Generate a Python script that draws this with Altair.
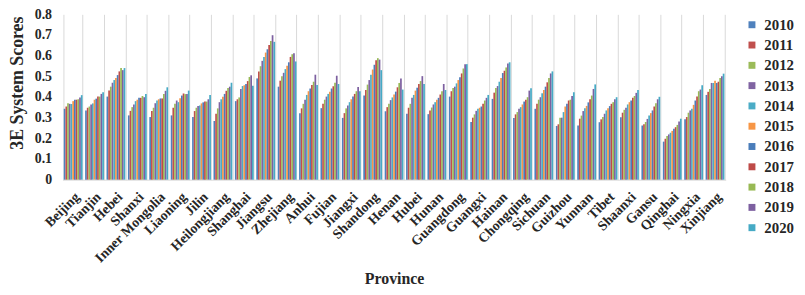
import altair as alt
import pandas as pd

provinces = ["Beijing", "Tianjin", "Hebei", "Shanxi", "Inner Mongolia", "Liaoning", "Jilin",
             "Heilongjiang", "Shanghai", "Jiangsu", "Zhejiang", "Anhui", "Fujian", "Jiangxi",
             "Shandong", "Henan", "Hubei", "Hunan", "Guangdong", "Guangxi", "Hainan",
             "Chongqing", "Sichuan", "Guizhou", "Yunnan", "Tibet", "Shaanxi", "Gansu",
             "Qinghai", "Ningxia", "Xinjiang"]
years = [str(y) for y in range(2010, 2021)]

s2010 = [.343, .335, .402, .311, .303, .311, .303, .284, .380, .490, .450, .322, .346, .299, .407, .331, .319, .317, .402, .279, .391, .299, .343, .260, .262, .278, .302, .262, .184, .292, .410]
s2011 = [.354, .348, .431, .333, .332, .348, .332, .319, .389, .524, .479, .345, .367, .322, .434, .351, .348, .335, .428, .300, .421, .316, .367, .268, .295, .292, .324, .268, .198, .303, .425]
s2012 = [.370, .354, .450, .351, .348, .367, .348, .345, .398, .549, .501, .367, .387, .345, .460, .367, .367, .349, .444, .316, .444, .327, .387, .300, .310, .303, .338, .279, .211, .324, .439]
s2013 = [.367, .364, .469, .364, .370, .383, .356, .375, .439, .575, .517, .387, .402, .359, .482, .385, .396, .364, .450, .333, .453, .343, .399, .300, .332, .319, .348, .294, .219, .335, .468]
s2014 = [.366, .369, .482, .380, .383, .375, .359, .389, .453, .594, .535, .410, .415, .375, .508, .398, .410, .375, .466, .343, .474, .351, .418, .327, .346, .335, .364, .310, .227, .343, .468]
s2015 = [.380, .387, .492, .387, .389, .394, .369, .401, .457, .615, .551, .428, .426, .389, .533, .412, .431, .387, .482, .348, .492, .364, .434, .354, .357, .346, .375, .322, .236, .362, .479]
s2016 = [.387, .392, .506, .396, .393, .407, .374, .415, .463, .631, .568, .441, .441, .402, .556, .426, .445, .396, .495, .354, .516, .378, .450, .367, .374, .356, .383, .335, .246, .383, .468]
s2017 = [.387, .402, .524, .396, .393, .417, .378, .430, .477, .652, .594, .458, .452, .415, .578, .447, .463, .412, .514, .367, .527, .387, .471, .383, .389, .367, .396, .354, .254, .402, .474]
s2018 = [.389, .402, .540, .405, .415, .414, .378, .444, .497, .671, .607, .474, .469, .428, .588, .468, .477, .428, .538, .383, .543, .399, .492, .387, .407, .375, .405, .370, .265, .428, .492]
s2019 = [.398, .415, .530, .399, .430, .414, .389, .450, .505, .699, .612, .508, .503, .449, .581, .489, .501, .463, .559, .396, .562, .431, .514, .405, .439, .389, .420, .389, .281, .436, .501]
s2020 = [.409, .423, .540, .415, .447, .431, .410, .469, .455, .667, .572, .458, .463, .428, .530, .436, .463, .434, .559, .410, .568, .442, .524, .423, .461, .399, .434, .401, .295, .457, .513]

series = [s2010, s2011, s2012, s2013, s2014, s2015, s2016, s2017, s2018, s2019, s2020]
colors = ["#4F81BD", "#C0504D", "#9BBB59", "#8064A2", "#4BACC6", "#F79646",
          "#4A7DBA", "#BE4B48", "#98B954", "#7D60A0", "#46AAC5"]
y_ticks = [0, 0.1, 0.2, 0.3, 0.4, 0.5, 0.6, 0.7, 0.8]

rows = []
for yr, vals in zip(years, series):
    assert len(vals) == len(provinces)
    for p, v in zip(provinces, vals):
        rows.append({"Province": p, "Year": yr, "Score": v})
df = pd.DataFrame(rows)

font = "Liberation Serif"
txt = "#262626"

chart = alt.Chart(df).mark_bar().encode(
    x=alt.X("Province:N", sort=provinces,
            scale=alt.Scale(paddingInner=0.12, paddingOuter=0.06),
            axis=alt.Axis(title="Province", labelAngle=-45, labelAlign="right",
                          labelBaseline="middle", labelPadding=15, labelOffset=4,
                          tickBand="extent",
                          grid=True, gridColor="#d9d9d9", gridWidth=1, ticks=False,
                          domainColor="#d9d9d9", labelFont=font, labelFontWeight="bold",
                          labelFontSize=14, labelColor=txt, labelOverlap=False,
                          titleFont=font, titleFontWeight="bold", titleFontSize=16,
                          titleColor=txt, titleY=105, titleBaseline="alphabetic")),
    xOffset=alt.XOffset("Year:N", sort=years, scale=alt.Scale(paddingInner=0, paddingOuter=0)),
    y=alt.Y("Score:Q", scale=alt.Scale(domain=[0, 0.8], nice=False),
            axis=alt.Axis(values=y_ticks, grid=False, domain=False, ticks=False,
                          labelPadding=11,
                          labelExpr="datum.value == 0 ? '0' : format(datum.value, '.1f')",
                          labelFont=font, labelFontWeight="bold", labelFontSize=14,
                          labelColor=txt, title="3E System Scores", titleFont=font,
                          titleFontWeight="bold", titleFontSize=18, titleColor=txt,
                          titleX=-45, titleY=69, titleBaseline="middle")),
    color=alt.Color("Year:N", sort=years, scale=alt.Scale(domain=years, range=colors),
                    legend=alt.Legend(title=None, orient="none", legendX=689, legendY=3,
                                      symbolType="square", symbolSize=49,
                                      symbolStrokeWidth=0, labelFont=font,
                                      labelFontWeight="bold", labelFontSize=15,
                                      labelColor=txt, labelOffset=5, rowPadding=4.5,
                                      padding=0)),
).properties(
    width=670, height=167,
    autosize=alt.AutoSizeParams(type="none"),
    padding={"left": 55, "top": 5, "right": 72, "bottom": 106},
).configure_view(stroke=None)

chart.save("out.html", embed_options={"renderer": "svg", "actions": False})
